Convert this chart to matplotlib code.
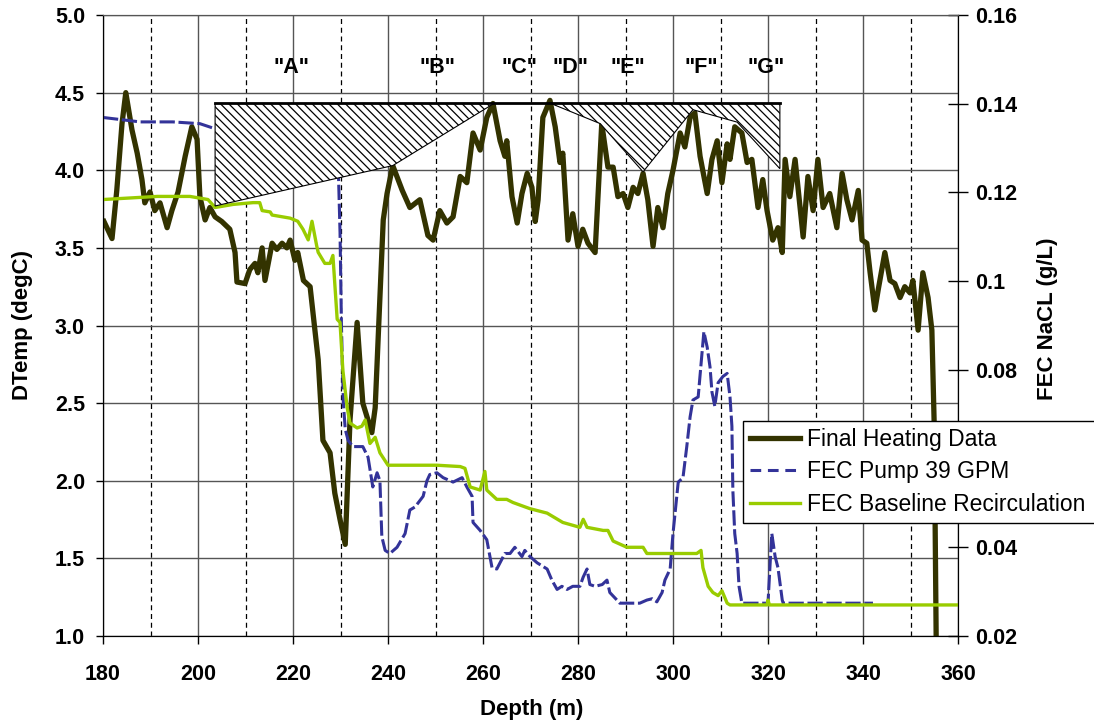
import matplotlib
matplotlib.use("Agg")
import matplotlib.pyplot as plt
from matplotlib.patches import Polygon

plt.rcParams['font.family'] = ['Liberation Sans', 'DejaVu Sans']
plt.rcParams['hatch.linewidth'] = 0.9
plt.rcParams['hatch.color'] = 'black'

# Final heating data: depth (m) vs DTemp (degC)
heat_depth = [180.2, 181.9, 182.9, 184.0, 184.8, 186.1, 187.2, 188.2, 188.8, 189.9,
              190.9, 192.0, 193.5, 194.5, 195.8, 197.3, 198.7, 199.8, 200.4, 201.5,
              202.5, 203.6, 205.0, 206.7, 207.8, 208.2, 209.9, 210.9, 212.0, 212.6,
              213.5, 214.1, 215.6, 216.6, 217.7, 218.7, 219.4, 220.4, 221.0, 222.2,
              223.6, 225.3, 226.3, 227.8, 228.8, 229.9, 231.0, 232.0, 233.5, 234.7,
              236.6, 237.3, 239.0, 239.8, 241.0, 243.0, 244.6, 246.7, 248.4, 249.5,
              250.9, 252.4, 253.7, 255.2, 256.6, 257.9, 259.4, 260.8, 262.1, 263.6,
              264.6, 265.0, 266.1, 267.2, 268.2, 269.3, 270.3, 271.0, 271.6, 272.6,
              274.1, 275.2, 276.2, 276.8, 277.9, 278.9, 280.0, 281.0, 282.1, 283.6,
              285.0, 286.3, 287.4, 288.4, 289.5, 290.5, 291.6, 292.6, 293.7, 294.7,
              295.8, 296.8, 297.9, 298.9, 300.0, 301.5, 302.5, 303.6, 304.6, 305.7,
              307.2, 308.2, 309.3, 310.3, 311.4, 312.0, 313.0, 314.5, 315.6, 316.6,
              317.9, 318.9, 319.8, 321.0, 322.1, 323.0, 323.6, 324.6, 325.7, 327.4,
              328.4, 329.5, 330.5, 331.6, 333.0, 334.5, 335.6, 336.6, 337.7, 339.0,
              339.8, 340.8, 341.5, 342.5, 343.2, 344.6, 345.7, 346.7, 347.8, 348.8,
              349.9, 350.5, 351.6, 352.6, 353.7, 354.5, 355.0, 355.4, 355.6]
heat_temp = [3.67, 3.56, 3.87, 4.30, 4.50, 4.26, 4.11, 3.94, 3.79, 3.86,
             3.74, 3.79, 3.63, 3.74, 3.86, 4.09, 4.28, 4.20, 3.83, 3.68,
             3.76, 3.70, 3.67, 3.62, 3.47, 3.28, 3.27, 3.36, 3.40, 3.34,
             3.50, 3.29, 3.53, 3.49, 3.53, 3.50, 3.55, 3.42, 3.47, 3.29,
             3.25, 2.78, 2.26, 2.18, 1.92, 1.75, 1.59, 2.39, 3.02, 2.50,
             2.31, 2.47, 3.68, 3.85, 4.03, 3.87, 3.76, 3.81, 3.58, 3.55,
             3.74, 3.66, 3.70, 3.96, 3.92, 4.24, 4.13, 4.34, 4.43, 4.19,
             4.09, 4.19, 3.83, 3.66, 3.85, 3.98, 3.89, 3.67, 3.81, 4.34,
             4.45, 4.28, 4.05, 4.11, 3.55, 3.72, 3.51, 3.62, 3.53, 3.47,
             4.30, 4.02, 4.02, 3.83, 3.85, 3.76, 3.89, 3.85, 3.98, 3.81,
             3.51, 3.76, 3.63, 3.85, 4.00, 4.24, 4.15, 4.34, 4.37, 4.09,
             3.85, 4.07, 4.19, 3.92, 4.17, 4.07, 4.28, 4.24, 4.05, 4.07,
             3.76, 3.94, 3.74, 3.55, 3.63, 3.47, 4.07, 3.83, 4.07, 3.57,
             3.96, 3.74, 4.07, 3.76, 3.85, 3.63, 3.98, 3.81, 3.68, 3.87,
             3.55, 3.53, 3.34, 3.10, 3.23, 3.47, 3.29, 3.27, 3.18, 3.25,
             3.21, 3.29, 2.97, 3.34, 3.18, 2.97, 2.35, 1.00, 0.50]

# FEC pump 39 GPM: depth (m) vs NaCl (g/L)
pump_depth = [180.0, 187.8, 194.7, 200.4, 203.2, 215.0, 229.3, 229.6, 229.9, 230.2,
              230.6, 231.0, 231.6, 232.6, 234.7, 235.8, 236.8, 237.7, 238.3, 238.7,
              239.4, 240.4, 241.9, 243.6, 244.6, 245.7, 247.4, 248.2, 248.8, 250.3,
              251.6, 253.7, 255.6, 256.6, 257.7, 257.9, 259.4, 260.8, 261.9, 262.9,
              264.6, 265.7, 266.7, 268.2, 268.8, 269.9, 271.4, 273.5, 274.5, 275.6,
              276.6, 277.7, 278.9, 280.4, 281.1, 281.9, 282.5, 283.6, 285.1, 286.1,
              286.7, 288.2, 288.8, 293.0, 294.5, 295.6, 296.6, 297.7, 298.3, 299.4,
              300.0, 301.1, 302.1, 302.9, 303.6, 304.2, 305.3, 306.1, 306.5, 307.2,
              307.8, 308.2, 308.8, 309.5, 310.5, 311.4, 312.0, 312.4, 312.6, 313.0,
              313.5, 313.9, 314.5, 320.0, 320.4, 320.8, 321.5, 322.1, 323.0, 323.2,
              342.1]
pump_fec = [0.1369, 0.1359, 0.1359, 0.1355, 0.1345, 0.1334, 0.1327, 0.1229, 0.1110, 0.0900,
            0.0725, 0.0666, 0.0641, 0.0627, 0.0627, 0.0603, 0.0536, 0.0568, 0.0550, 0.0424,
            0.0393, 0.0386, 0.0400, 0.0431, 0.0484, 0.0491, 0.0515, 0.0550, 0.0564, 0.0568,
            0.0557, 0.0547, 0.0557, 0.0536, 0.0515, 0.0456, 0.0438, 0.0417, 0.0354, 0.0351,
            0.0386, 0.0386, 0.0400, 0.0379, 0.0393, 0.0379, 0.0365, 0.0351, 0.0326, 0.0305,
            0.0312, 0.0305, 0.0312, 0.0312, 0.0333, 0.0351, 0.0316, 0.0312, 0.0316, 0.0326,
            0.0298, 0.0281, 0.0274, 0.0274, 0.0281, 0.0284, 0.0277, 0.0298, 0.0326, 0.0351,
            0.0431, 0.0547, 0.0557, 0.0627, 0.0694, 0.0732, 0.0739, 0.0837, 0.0886, 0.0851,
            0.0806, 0.0750, 0.0718, 0.0771, 0.0785, 0.0792, 0.0739, 0.0673, 0.0529, 0.0431,
            0.0386, 0.0312, 0.0274, 0.0274, 0.0354, 0.0431, 0.0379, 0.0354, 0.0281, 0.0274,
            0.0274]

# FEC baseline recirculation: depth (m) vs NaCl (g/L)
base_depth = [180.0, 191.4, 198.3, 202.1, 203.6, 207.4, 211.6, 213.0, 213.5, 215.2,
              215.6, 219.4, 221.0, 222.1, 223.2, 224.0, 225.0, 225.3, 226.7, 227.8,
              228.4, 229.3, 229.9, 230.5, 231.4, 232.0, 233.5, 234.5, 235.2, 236.2,
              237.3, 238.3, 240.0, 250.3, 255.2, 256.2, 257.3, 259.4, 260.4, 260.8,
              262.9, 265.0, 266.3, 269.9, 273.5, 276.8, 280.4, 281.1, 281.9, 285.3,
              286.3, 287.4, 290.3, 293.7, 294.5, 298.7, 305.0, 305.9, 306.3, 307.4,
              308.4, 309.5, 310.3, 311.4, 312.0, 319.8, 320.0, 320.3, 360.0]
base_fec = [0.1184, 0.1191, 0.1191, 0.1184, 0.1166, 0.1173, 0.1177, 0.1177, 0.1159, 0.1156,
            0.1149, 0.1142, 0.1135, 0.1117, 0.1093, 0.1135, 0.1079, 0.1065, 0.1040, 0.1040,
            0.1058, 0.0914, 0.0907, 0.0799, 0.0715, 0.0680, 0.0669, 0.0673, 0.0687, 0.0634,
            0.0648, 0.0613, 0.0585, 0.0585, 0.0582, 0.0578, 0.0536, 0.0529, 0.0571, 0.0529,
            0.0508, 0.0508, 0.0501, 0.0487, 0.0477, 0.0456, 0.0445, 0.0463, 0.0445, 0.0438,
            0.0438, 0.0414, 0.0400, 0.0400, 0.0386, 0.0386, 0.0386, 0.0393, 0.0354, 0.0312,
            0.0298, 0.0291, 0.0302, 0.0274, 0.0270, 0.0270, 0.0281, 0.0270, 0.0270]

# hatched zones (depth, DTemp)
zone1_x = [203.6, 262.3, 241.0, 203.6]
zone1_y = [4.43, 4.43, 4.03, 3.77]
zone2_x = [274.3, 322.5, 322.5, 313.5, 304.2, 293.7, 284.7]
zone2_y = [4.43, 4.43, 4.01, 4.31, 4.39, 3.99, 4.30]
top_x = [203.6, 322.5]
top_y = [4.43, 4.43]

zone_labels = ['"A"', '"B"', '"C"', '"D"', '"E"', '"F"', '"G"']
zone_label_x = [219.6, 250.5, 267.6, 278.5, 290.5, 305.9, 319.6]
zone_label_y = 4.665

left_ticks = [1.0, 1.5, 2.0, 2.5, 3.0, 3.5, 4.0, 4.5, 5.0]
right_ticks = [0.02, 0.04, 0.06, 0.08, 0.10, 0.12, 0.14, 0.16]
# 0.06 sits behind the legend in the original
right_labels = ['0.02', '0.04', '', '0.08', '0.1', '0.12', '0.14', '0.16']

W, H = 1094, 727
fig = plt.figure(figsize=(W / 100, H / 100), dpi=100)
ax = fig.add_axes([103 / W, 1 - 636 / H, 855 / W, 621 / H])
ax2 = ax.twinx()

ax.set_xlim(180, 360)
ax.set_ylim(1, 5)
ax2.set_ylim(0.02, 0.16)

# grid
ax.set_xticks(range(180, 361, 20))
ax.set_xticks(range(190, 360, 20), minor=True)
ax.set_yticks(left_ticks, labels=['%.1f' % v for v in left_ticks])
ax.grid(which='major', color='#555555', lw=1.0, ls='-')
ax.grid(which='minor', axis='x', color='black', lw=0.9, ls=(0, (4, 3)))
ax.set_axisbelow(True)

ln_heat, = ax.plot(heat_depth, heat_temp, color='#333300', lw=3.8, zorder=2,
                   solid_joinstyle='round', label='Final Heating Data')

ln_pump, = ax2.plot(pump_depth, pump_fec, color='#333399', lw=2.2, ls=(0, (5, 1.2)),
                    zorder=2, label='FEC Pump 39 GPM')
ln_base, = ax2.plot(base_depth, base_fec, color='#99CC00', lw=2.4, zorder=2,
                    label='FEC Baseline Recirculation')

for zx, zy in [(zone1_x, zone1_y), (zone2_x, zone2_y)]:
    ax2.add_patch(Polygon(list(zip(zx, zy)), closed=True, facecolor='white',
                          edgecolor='black', hatch='\\\\\\\\', lw=0.8,
                          transform=ax.transData, zorder=3))
ax2.plot(top_x, top_y, color='black', lw=2.0, transform=ax.transData, zorder=4)
ax2.set_ylim(0.02, 0.16)

for lab, lx in zip(zone_labels, zone_label_x):
    ax.text(lx, zone_label_y, lab, ha='center', va='center',
            fontsize=15.5, fontweight='bold')

# ticks
ax.tick_params(axis='y', which='major', direction='out', length=5, width=1,
               pad=8, labelsize=15.5)
ax.tick_params(axis='x', which='major', direction='out', length=6, width=1,
               pad=14, labelsize=15.5)
ax.tick_params(axis='x', which='minor', length=0)
for t in ax.get_xticklabels() + ax.get_yticklabels():
    t.set_fontweight('bold')
ax2.set_yticks(right_ticks, labels=right_labels)
ax2.tick_params(axis='y', direction='inout', length=15, width=1, pad=5,
                labelsize=15.5)
for t in ax2.get_yticklabels():
    t.set_fontweight('bold')

for sp in ['left', 'right', 'bottom']:
    ax.spines[sp].set_color('black')
    ax2.spines[sp].set_color('black')
ax.spines['top'].set_color('#555555')
ax2.spines['top'].set_color('#555555')

fig.text(23 / W, 1 - 325 / H, 'DTemp (degC)', rotation=90, ha='center', va='center',
         fontsize=16, fontweight='bold')
fig.text(532 / W, 1 - 710 / H, 'Depth (m)', ha='center', va='center',
         fontsize=16, fontweight='bold')
fig.text(1047 / W, 1 - 319 / H, 'FEC NaCL (g/L)', rotation=90, ha='center', va='center',
         fontsize=16, fontweight='bold')

leg = ax2.legend([ln_heat, ln_pump, ln_base],
                 ['Final Heating Data', 'FEC Pump 39 GPM', 'FEC Baseline Recirculation'],
                 loc='upper left', bbox_to_anchor=(743 / W, 1 - 428 / H, 0.35, 0.01),
                 bbox_transform=fig.transFigure, mode='expand', borderaxespad=0,
                 fancybox=False, framealpha=1, edgecolor='black', fontsize=16.5,
                 handlelength=2.2, handletextpad=0.3, labelspacing=0.42, borderpad=0.3)
leg.get_frame().set_linewidth(1.0)
leg.set_zorder(10)
leg.get_lines()[1].set_linestyle((0, (3.5, 2.2)))

fig.savefig('out.png', dpi=100)
